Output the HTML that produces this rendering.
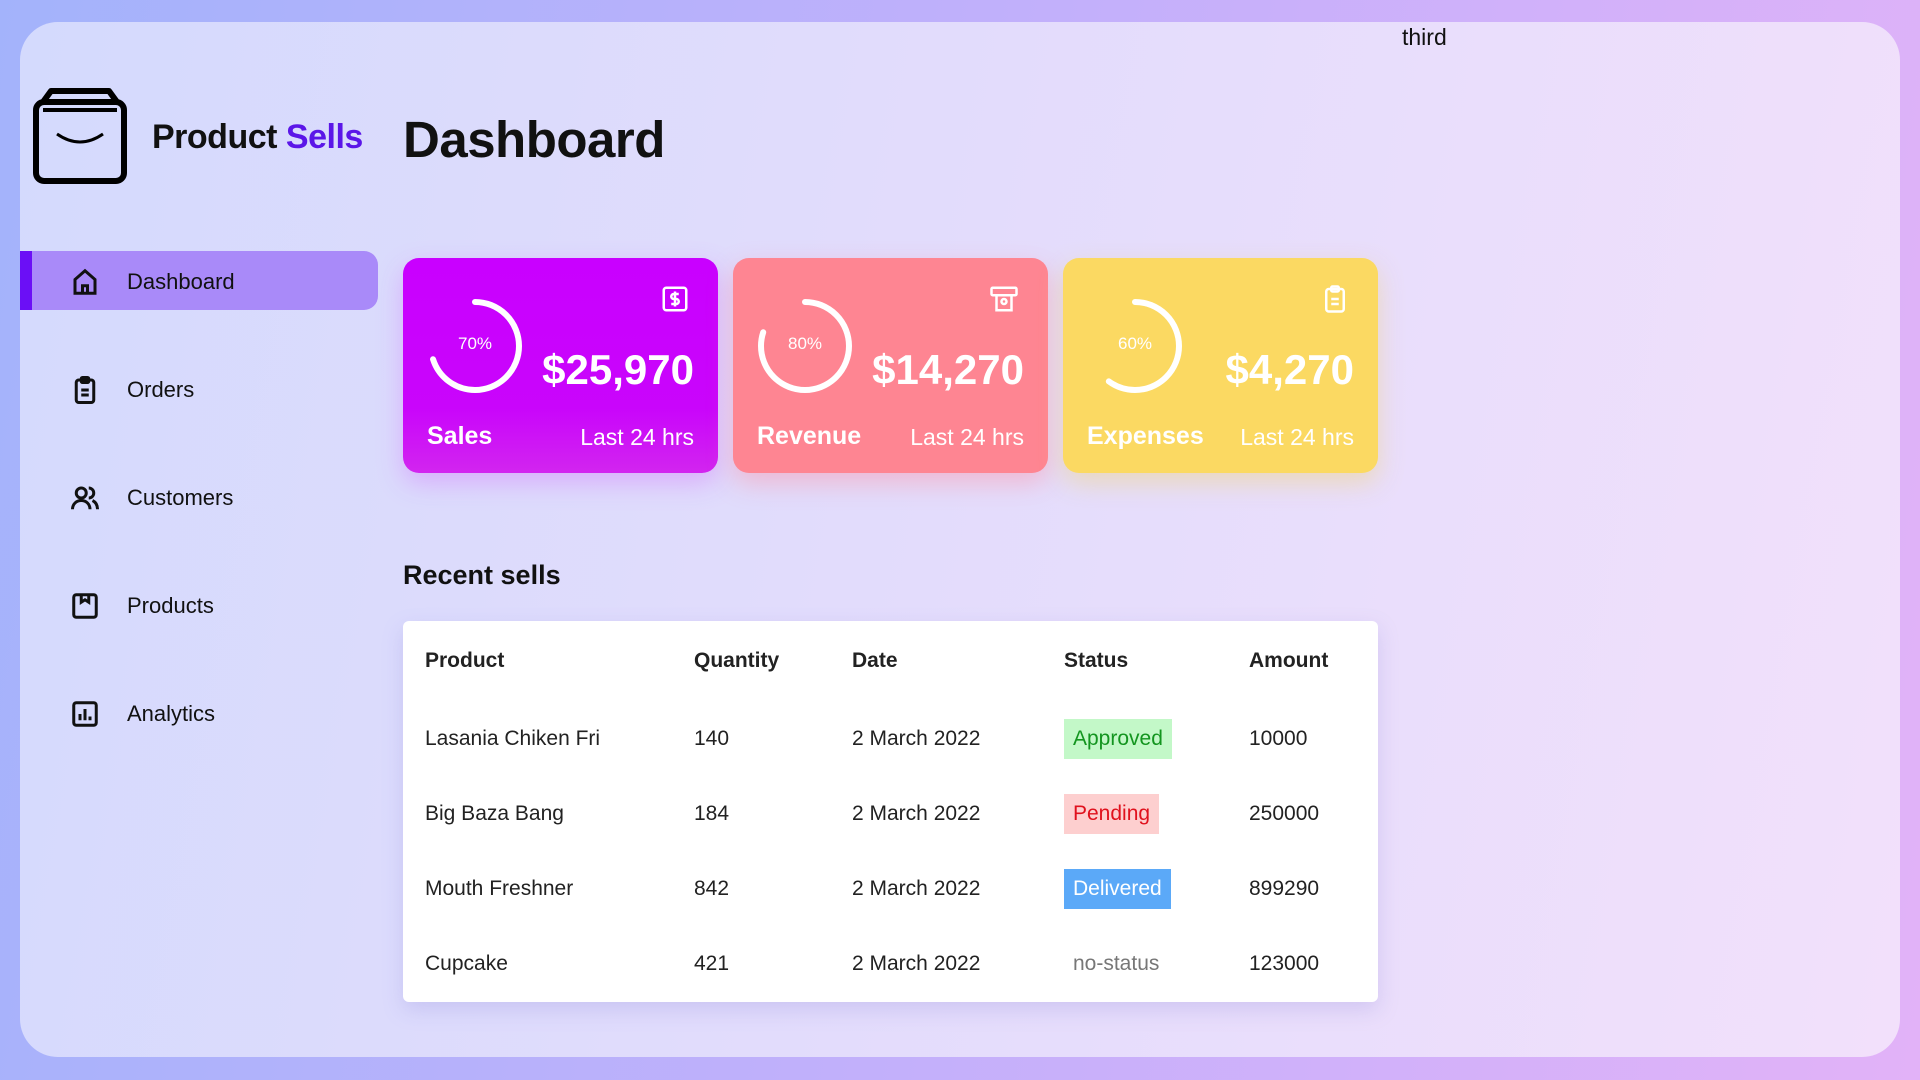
<!DOCTYPE html>
<html><head><meta charset="utf-8"><style>
*{margin:0;padding:0;box-sizing:border-box}
body{width:1920px;height:1080px;overflow:hidden;font-family:"Liberation Sans",sans-serif;background:linear-gradient(100deg,#a3b3fb 0%,#c2b0fb 50%,#e2b2f8 100%);position:relative;color:#111}
.main{position:absolute;left:20px;top:22px;width:1880px;height:1035px;border-radius:38px;background:linear-gradient(100deg,#d4dafd 0%,#e2dcfc 45%,#f2e0fb 100%)}
.abs{position:absolute}
.third{left:1402px;top:24px;font-size:23px;color:#111}
.brand{left:152px;top:118px;font-size:34px;font-weight:bold;letter-spacing:-0.5px}
.brand span{color:#5b16e8}
.title{left:403px;top:110px;font-size:51px;font-weight:bold;letter-spacing:-0.5px}
.active{left:20px;top:251px;width:358px;height:59px;background:#a98af9;border-radius:0 14px 14px 0;border-left:12px solid #6b0ff6}
.mi{left:70px;font-size:22px;display:flex;align-items:center;height:40px}
.mi svg{width:30px;height:30px;margin-right:27px}
.card{top:258px;width:315px;height:215px;border-radius:16px;color:#fff}
.card .pct{position:absolute;left:40px;top:76px;width:64px;text-align:center;font-size:17px}
.card .amt{position:absolute;right:24px;top:88px;font-size:42px;font-weight:bold}
.card .lbl{position:absolute;left:24px;top:164px;font-size:25px;font-weight:bold}
.card .l24{position:absolute;right:24px;top:166px;font-size:23px}
.card .ring{position:absolute;left:24px;top:40px}
.card .ic{position:absolute;right:28px;top:26px}
.rs{left:403px;top:560px;font-size:27px;font-weight:bold}
.tbl{left:403px;top:621px;width:975px;height:381px;background:#fff;border-radius:6px;box-shadow:0 8px 20px rgba(140,130,220,.25)}
.tbl div{position:absolute;font-size:21px;color:#222;transform:translateY(-50%)}
.h{font-weight:bold}
.b{padding:8px 9px}
</style></head><body>
<div class="main"></div>
<div class="abs third">third</div>
<svg class="abs" style="left:33px;top:88px" width="94" height="96" viewBox="0 0 94 96"><path d="M10 14 L18 3 L76 3 L84 14" fill="none" stroke="#000" stroke-width="6" stroke-linejoin="round"/><rect x="3" y="14" width="88" height="79" rx="8" fill="none" stroke="#000" stroke-width="6"/><line x1="10" y1="22" x2="84" y2="22" stroke="#000" stroke-width="4"/><path d="M24 46 Q47 62 70 46" fill="none" stroke="#000" stroke-width="3"/></svg>
<div class="abs brand">Product <span>Sells</span></div>
<div class="abs title">Dashboard</div>
<div class="abs active"></div>
<div class="abs mi" style="top:262px"><svg viewBox="0 0 24 24" fill="none" stroke="#111" stroke-width="2.4"><path d="M4 21V10l8-7 8 7v11z"/><path d="M10 21v-6h4v6"/></svg>Dashboard</div>
<div class="abs mi" style="top:370px"><svg viewBox="0 0 24 24" fill="none" stroke="#111" stroke-width="2.4"><rect x="5" y="4" width="14" height="18" rx="2"/><rect x="9" y="2" width="6" height="4" rx="1"/><path d="M9 12h6M9 16h6"/></svg>Orders</div>
<div class="abs mi" style="top:478px"><svg viewBox="0 0 24 24" fill="none" stroke="#111" stroke-width="2.4"><circle cx="9" cy="8" r="4"/><path d="M2 21c0-4 3-7 7-7s7 3 7 7"/><path d="M15 4a4 4 0 010 8M18 14c2 1 4 3 4 7"/></svg>Customers</div>
<div class="abs mi" style="top:586px"><svg viewBox="0 0 24 24" fill="none" stroke="#111" stroke-width="2.4"><rect x="3" y="3" width="18" height="18" rx="2"/><path d="M9 3v6l3-2 3 2V3"/></svg>Products</div>
<div class="abs mi" style="top:694px"><svg viewBox="0 0 24 24" fill="none" stroke="#111" stroke-width="2.4"><rect x="3" y="3" width="18" height="18" rx="2"/><path d="M8 17v-5M12 17V8M16 17v-3"/></svg>Analytics</div>

<div class="abs card" style="left:403px;background:linear-gradient(180deg,#c900ff 0%,#c905fb 70%,#d225ef 100%);box-shadow:0 10px 25px rgba(210,120,250,.45)">
<svg class="ring" width="96" height="96"><circle cx="48" cy="48" r="44" fill="none" stroke="#fff" stroke-width="6" stroke-linecap="round" stroke-dasharray="193.5 400" transform="rotate(-90 48 48)"/></svg>
<div class="pct">70%</div><div class="amt">$25,970</div><div class="lbl">Sales</div><div class="l24">Last 24 hrs</div>
<svg class="ic" width="30" height="30" viewBox="0 0 24 24" fill="none" stroke="#fff" stroke-width="2"><rect x="3" y="3" width="18" height="18" rx="2"/><path d="M15 8h-4a2 2 0 000 4h2a2 2 0 010 4H9M12 6v12"/></svg></div>

<div class="abs card" style="left:733px;background:#fe8592;box-shadow:0 10px 25px rgba(255,140,160,.45)">
<svg class="ring" width="96" height="96"><circle cx="48" cy="48" r="44" fill="none" stroke="#fff" stroke-width="6" stroke-linecap="round" stroke-dasharray="221 400" transform="rotate(-90 48 48)"/></svg>
<div class="pct">80%</div><div class="amt">$14,270</div><div class="lbl">Revenue</div><div class="l24">Last 24 hrs</div>
<svg class="ic" width="32" height="30" viewBox="0 0 24 24" fill="none" stroke="#fff" stroke-width="2"><rect x="2" y="3" width="20" height="6" rx="1"/><path d="M6 9v12h12V9"/><circle cx="12" cy="14" r="2"/></svg></div>

<div class="abs card" style="left:1063px;background:#fbd962;box-shadow:0 10px 25px rgba(240,210,110,.45)">
<svg class="ring" width="96" height="96"><circle cx="48" cy="48" r="44" fill="none" stroke="#fff" stroke-width="6" stroke-linecap="round" stroke-dasharray="166 400" transform="rotate(-90 48 48)"/></svg>
<div class="pct">60%</div><div class="amt">$4,270</div><div class="lbl">Expenses</div><div class="l24">Last 24 hrs</div>
<svg class="ic" width="30" height="30" viewBox="0 0 24 24" fill="none" stroke="#fff" stroke-width="2"><rect x="5" y="4" width="14" height="18" rx="2"/><rect x="9" y="2" width="6" height="4" rx="1"/><path d="M9 12h6M9 16h6"/></svg></div>

<div class="abs rs">Recent sells</div>
<div class="abs tbl">
<div class="h" style="left:22px;top:40px">Product</div><div class="h" style="left:291px;top:40px">Quantity</div><div class="h" style="left:449px;top:40px">Date</div><div class="h" style="left:661px;top:40px">Status</div><div class="h" style="left:846px;top:40px">Amount</div>
<div style="left:22px;top:118px">Lasania Chiken Fri</div><div style="left:291px;top:118px">140</div><div style="left:449px;top:118px">2 March 2022</div><div class="b" style="left:661px;top:118px;background:#c3f8c8;color:#13951f">Approved</div><div style="left:846px;top:118px">10000</div>
<div style="left:22px;top:193px">Big Baza Bang</div><div style="left:291px;top:193px">184</div><div style="left:449px;top:193px">2 March 2022</div><div class="b" style="left:661px;top:193px;background:#fdcfcf;color:#e0111d">Pending</div><div style="left:846px;top:193px">250000</div>
<div style="left:22px;top:268px">Mouth Freshner</div><div style="left:291px;top:268px">842</div><div style="left:449px;top:268px">2 March 2022</div><div class="b" style="left:661px;top:268px;background:#5ba9f8;color:#fff">Delivered</div><div style="left:846px;top:268px">899290</div>
<div style="left:22px;top:343px">Cupcake</div><div style="left:291px;top:343px">421</div><div style="left:449px;top:343px">2 March 2022</div><div class="b" style="left:661px;top:343px;color:#777">no-status</div><div style="left:846px;top:343px">123000</div>
</div>
</body></html>
